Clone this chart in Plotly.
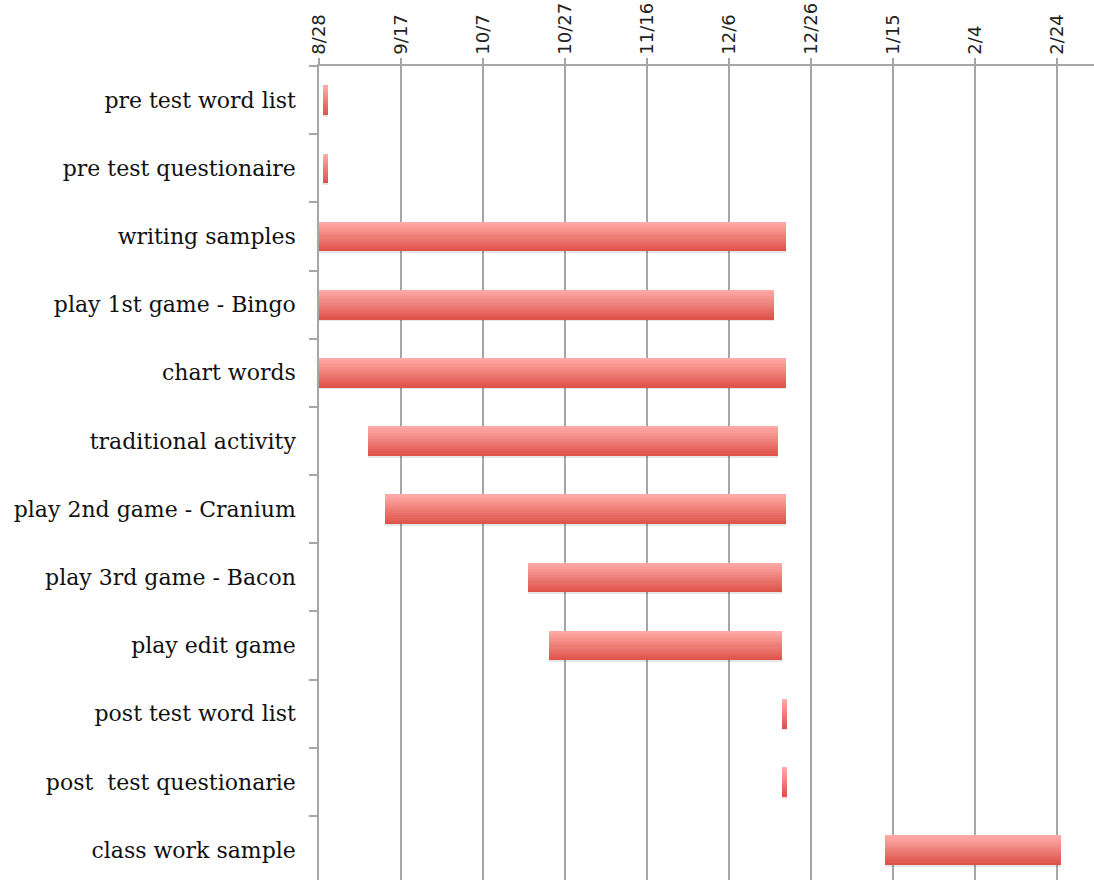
import plotly.graph_objects as go
import pandas as pd

tasks = [
    "pre test word list",
    "pre test questionaire",
    "writing samples",
    "play 1st game - Bingo",
    "chart words",
    "traditional activity",
    "play 2nd game - Cranium",
    "play 3rd game - Bacon",
    "play edit game",
    "post test word list",
    "post  test questionarie",
    "class work sample",
]
starts = [
    "2009-08-29", "2009-08-29", "2009-08-28", "2009-08-28", "2009-08-28",
    "2009-09-09", "2009-09-13", "2009-10-18", "2009-10-23", "2009-12-19",
    "2009-12-19", "2010-01-13",
]
durations_days = [1.3, 1.3, 114, 111, 114, 100, 98, 62, 57, 1.2, 1.2, 43]

DAY_MS = 86400000
dur_ms = [d * DAY_MS for d in durations_days]

# gradient colours (top -> bottom)
top_rgb = (255, 170, 166)
bot_rgb = (222, 84, 76)
N = 14
W = 0.43

fig = go.Figure()

# soft shadow
fig.add_trace(go.Bar(
    y=tasks, x=dur_ms, base=starts, orientation="h",
    width=W, offset=-W / 2 + 0.03,
    marker=dict(color="rgba(0,0,0,0.10)", line=dict(width=0)),
    hoverinfo="skip", showlegend=False,
))

for i in range(N):
    t = i / (N - 1)
    r = round(top_rgb[0] + (bot_rgb[0] - top_rgb[0]) * t)
    g = round(top_rgb[1] + (bot_rgb[1] - top_rgb[1]) * t)
    b = round(top_rgb[2] + (bot_rgb[2] - top_rgb[2]) * t)
    fig.add_trace(go.Bar(
        y=tasks, x=dur_ms, base=starts, orientation="h",
        width=W / N * 1.15, offset=-W / 2 + i * W / N,
        marker=dict(color=f"rgb({r},{g},{b})", line=dict(width=0)),
        hoverinfo="skip", showlegend=False,
    ))

fig.update_layout(
    width=1094, height=880,
    margin=dict(l=319, r=0, t=66, b=0),
    barmode="overlay",
    plot_bgcolor="white", paper_bgcolor="white",
    showlegend=False,
    bargap=0,
)

fig.update_xaxes(
    type="date",
    side="top",
    range=["2009-08-28", "2010-03-05"],
    tick0="2009-08-28",
    dtick=20 * DAY_MS,
    tickformat="%-m/%-d",
    tickangle=-90,
    tickfont=dict(family="DejaVu Sans", size=18, color="#222222"),
    showgrid=True, gridcolor="#a6a6a6", gridwidth=1.5,
    showline=True, linecolor="#a6a6a6", linewidth=1.5,
    ticks="outside", ticklen=6, tickcolor="#a6a6a6", tickwidth=1.5,
    zeroline=False,
)

fig.update_yaxes(
    type="category",
    categoryorder="array", categoryarray=tasks,
    range=[11.44, -0.5],
    tickson="boundaries",
    ticks="outside", ticklen=8, tickcolor="#a6a6a6", tickwidth=1.5,
    showline=True, linecolor="#a6a6a6", linewidth=1.5,
    showgrid=False,
    tickfont=dict(family="DejaVu Serif", size=22, color="#111111"),
    ticklabelstandoff=17,
)

fig.write_html("out.html")
